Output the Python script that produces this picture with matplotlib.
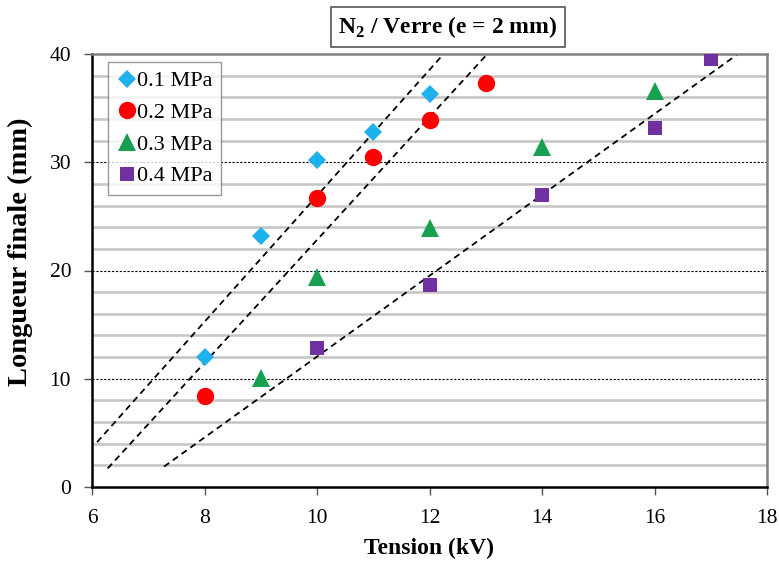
import numpy as np
import matplotlib
matplotlib.use("Agg")
import matplotlib.pyplot as plt

plt.rcParams['font.family'] = ['Liberation Serif', 'DejaVu Serif']
plt.rcParams['mathtext.fontset'] = 'custom'
plt.rcParams['mathtext.rm'] = 'Liberation Serif'
plt.rcParams['mathtext.bf'] = 'Liberation Serif:bold'

labels = ['0.1 MPa', '0.2 MPa', '0.3 MPa', '0.4 MPa']
x01 = [8, 9, 10, 11, 12]
y01 = [12.0, 23.2, 30.2, 32.8, 36.3]
x02 = [8, 10, 11, 12, 13]
y02 = [8.4, 26.7, 30.5, 33.9, 37.3]
x03 = [9, 10, 12, 14, 16]
y03 = [10.1, 19.4, 23.9, 31.4, 36.6]
x04 = [10, 12, 14, 16, 17]
y04 = [12.8, 18.7, 27.0, 33.2, 39.5]

xs = [x01, x02, x03, x04]
ys = [y01, y02, y03, y04]
markers = ['D', 'o', '^', 's']
colors = ['#1FB1EE', '#FF0000', '#16A050', '#7030A0']
msizes = [9.5, 12.5, 12.5, 10.5]

# trendline series (linear fits) and their start abscissa
trend_series = [0, 1, 3]
trend_start = [6.09, 6.28, 7.28]

fig = plt.figure(figsize=(7.79, 5.61), dpi=100)
ax = fig.add_axes([92/779, 1-487/561, (767-92)/779, (487-54)/561])

ax.set_xlim(6, 18)
ax.set_ylim(0, 40)

# grid lines
for g in np.arange(2, 40, 2):
    if g % 10 == 0:
        ax.axhline(g, color='black', lw=0.8, ls=(0, (2, 1.5)), zorder=1)
    else:
        ax.axhline(g, color='#c4c4c4', lw=1.8, zorder=1)

for i, (xx, yy) in enumerate(zip(xs, ys)):
    ax.plot(xx, yy, ls='none', marker=markers[i], color=colors[i],
            markersize=msizes[i], markeredgewidth=0, label=labels[i], zorder=3)

for s, x0 in zip(trend_series, trend_start):
    a, b = np.polyfit(xs[s], ys[s], 1)
    x1 = (40 - b) / a
    xl = np.array([x0, x1])
    ax.plot(xl, a * xl + b, color='black', ls=(0, (3.5, 2.5)), lw=1.3, zorder=2)

ax.set_xticks(np.arange(6, 19, 2))
ax.set_yticks(np.arange(0, 41, 10))
ax.tick_params(axis='both', labelsize=15.5, direction='out', length=6, width=1, color='#555555')
ax.tick_params(axis='x', pad=10)
ax.tick_params(axis='y', pad=9)

for side in ['left', 'bottom']:
    ax.spines[side].set_color('black')
    ax.spines[side].set_linewidth(1.8)
for side in ['top', 'right']:
    ax.spines[side].set_color('#808080')
    ax.spines[side].set_linewidth(1.8)

ax.set_xlabel('Tension (kV)', fontsize=17, fontweight='bold', labelpad=7)
ax.set_ylabel('Longueur finale (mm)', fontsize=20.5, fontweight='bold')
ax.yaxis.set_label_coords(-0.0874, 0.543)

leg = ax.legend(loc='upper left', bbox_to_anchor=(16/675, 1-8/433), fontsize=16,
                frameon=True, fancybox=False, handletextpad=0.0, handlelength=0.9,
                borderpad=0.4, labelspacing=0.5, borderaxespad=0)
leg.get_frame().set_edgecolor('#808080')
leg.get_frame().set_linewidth(1.0)

fig.text(448/779, 1-27/561, r'N$_\mathbf{2}$ / Verre (e = 2 mm)', fontsize=17, fontweight='bold',
         ha='center', va='center',
         bbox=dict(boxstyle='square,pad=0.3', fc='white', ec='#555555', lw=1.2))

fig.savefig('out.png', dpi=100)
